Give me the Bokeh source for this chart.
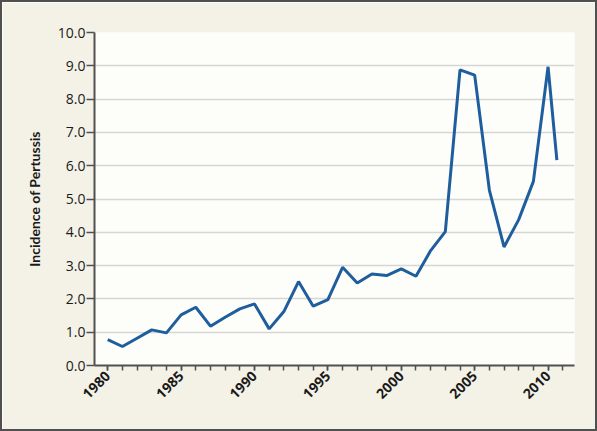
import math
from bokeh.plotting import figure
from bokeh.models import SingleIntervalTicker, FixedTicker, Range1d, NumeralTickFormatter
from bokeh.embed import file_html
from bokeh.resources import INLINE

years = [1980, 1981, 1982, 1983, 1984, 1985, 1986, 1987, 1988, 1989,
         1990, 1991, 1992, 1993, 1994, 1995, 1996, 1997, 1998, 1999,
         2000, 2001, 2002, 2003, 2004, 2005, 2006, 2007, 2008, 2009,
         2010, 2010.6]
incidence = [0.78, 0.57, 0.82, 1.07, 0.98, 1.52, 1.75, 1.18, 1.45, 1.70,
             1.85, 1.10, 1.62, 2.52, 1.78, 1.98, 2.95, 2.48, 2.75, 2.70,
             2.90, 2.68, 3.45, 4.02, 8.88, 8.72, 5.27, 3.56, 4.38, 5.53,
             8.97, 6.17]
y_ticks = [0, 1, 2, 3, 4, 5, 6, 7, 8, 9, 10]

W, H = 593, 427
p = figure(width=W, height=H, output_backend="svg", toolbar_location=None,
           x_range=Range1d(1979.1, 2011.8), y_range=Range1d(0, 10),
           min_border_left=92, min_border_right=25, min_border_top=30, min_border_bottom=68,
           background_fill_color="#fdfdf9", border_fill_color="#f4f2e7")
p.outline_line_color = None
p.styles = {"border": "2px solid #505050", "box-sizing": "content-box"}

p.line(years, incidence, line_color="#1f5e9e", line_width=3)

p.xgrid.grid_line_color = None
p.ygrid.grid_line_color = "#d6d6d6"
p.ygrid.grid_line_width = 1.5

for ax in (p.xaxis[0], p.yaxis[0]):
    ax.axis_line_color = "#505050"
    ax.axis_line_width = 2
    ax.major_tick_line_color = "#505050"
    ax.major_tick_line_width = 1.5
    ax.minor_tick_line_color = "#505050"
    ax.minor_tick_line_width = 1.5
    ax.major_tick_in = 0
    ax.minor_tick_in = 0
    ax.major_label_text_color = "#1a1a1a"

xa = p.xaxis[0]
xa.ticker = SingleIntervalTicker(interval=5, num_minor_ticks=5)
xa.major_tick_out = 5
xa.minor_tick_out = 5
xa.major_label_orientation = math.pi / 4
xa.major_label_text_font = "Open Sans"
xa.major_label_text_font_style = "bold"
xa.major_label_text_font_size = "14px"
xa.major_label_standoff = 3

ya = p.yaxis[0]
ya.ticker = FixedTicker(ticks=y_ticks)
ya.formatter = NumeralTickFormatter(format="0.0")
ya.major_tick_out = 8
ya.minor_tick_line_color = None
ya.major_label_text_font = "Open Sans"
ya.major_label_text_font_size = "14px"
ya.major_label_standoff = 1
ya.axis_label = "Incidence of Pertussis"
ya.axis_label_text_font = "Lato"
ya.axis_label_text_font_style = "bold"
ya.axis_label_text_font_size = "14px"
ya.axis_label_text_color = "#1a1a1a"
ya.axis_label_standoff = 12

open("out.html", "w").write(file_html(p, INLINE))
